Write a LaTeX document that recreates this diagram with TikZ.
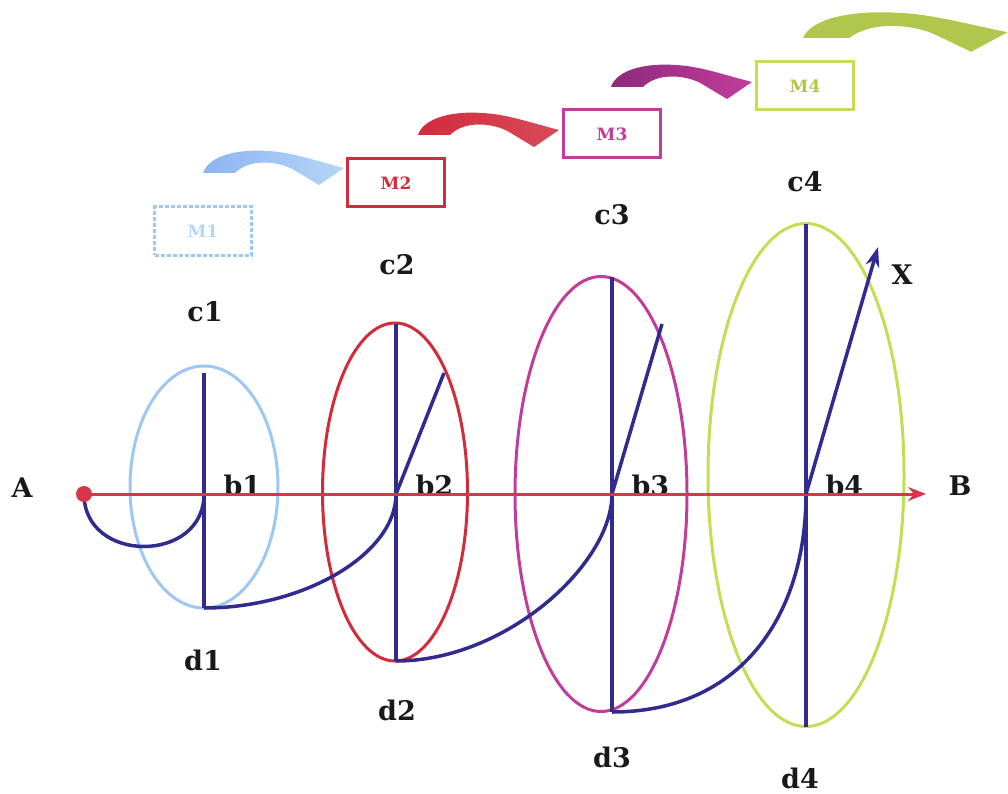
\documentclass[tikz,border=0pt]{standalone}
\usepackage{fontspec}
\usepackage{tikz}
\usetikzlibrary{shapes,arrows.meta,positioning,calc}
\newfontfamily\slabfont{DejaVu Serif}
\definecolor{rngblue}{HTML}{9DC8F2}
\definecolor{rngred}{HTML}{D22B3C}
\definecolor{rngmag}{HTML}{C23C9C}
\definecolor{rnggreen}{HTML}{C5DC55}
\definecolor{rngnavy}{HTML}{2F2B8F}
\definecolor{axisred}{HTML}{D8344A}
\definecolor{swpurple}{HTML}{8E2A7A}

\begin{document}
\begin{tikzpicture}[
    x=1pt, y=-1pt,
    ring/.style={draw, ellipse, line width=3pt, inner sep=0pt},
    spoke/.style={draw=rngnavy, line width=3.5pt},
    lbl/.style={font={\slabfont\fontsize{27}{30}\selectfont\bfseries}, text=black!90},
    mbox/.style={draw, line width=3pt, minimum width=97pt, minimum height=48pt,
                 font={\slabfont\fontsize{17}{20}\selectfont\bfseries}},
    swoosh/.pic={
        \path[pic actions] (0,0) .. controls (6,-18) and (36,-24) .. (64,-22)
            .. controls (88,-21) and (110,-13) .. (141,-5) -- (116,12) -- (91,-3)
            .. controls (78,-11) and (48,-16) .. (32,0) -- cycle;
    }
]
    \useasboundingbox (0,0) rectangle (1008,794);

    % boxes and swooshes
    \node[mbox, draw=rngblue, dash pattern=on 4pt off 2pt, text=rngblue!75] (m1) at (203,231) {M1};
    \node[mbox, draw=rngred, text=rngred] (m2) at (396,183) {M2};
    \node[mbox, draw=rngmag, text=rngmag] (m3) at (612,134) {M3};
    \node[mbox, draw=rnggreen, text=rnggreen!90!black] (m4) at (805,86) {M4};

    \pic[left color=rngblue!90!blue, right color=rngblue!75] at (203,173) {swoosh};
    \pic[left color=rngred, right color=rngred!85!white] at (418,135) {swoosh};
    \pic[left color=swpurple, right color=rngmag] at (611,87) {swoosh};
    \pic[fill=rnggreen!90!black, xscale=1.45, yscale=1.15] at (803,38) {swoosh};

    % rings
    \node[ring, draw=rngblue, minimum width=148pt, minimum height=242pt] (e1) at (204,487) {};
    \node[ring, draw=rngred, minimum width=145pt, minimum height=338pt] (e2) at (395,492) {};
    \node[ring, draw=rngmag, minimum width=172pt, minimum height=435pt] (e3) at (601,494) {};
    \node[ring, draw=rnggreen, minimum width=196pt, minimum height=503pt] (e4) at (806,475) {};

    % points
    \coordinate (A) at (84,494);
    \coordinate (B) at (926,494);
    \coordinate (b1) at (204,494);
    \coordinate (b2) at (396,494);
    \coordinate (b3) at (612,494);
    \coordinate (b4) at (806,494);
    \coordinate (t1) at (204,373);
    \coordinate (t2) at (396,324);
    \coordinate (t3) at (612,277);
    \coordinate (t4) at (806,224);
    \coordinate (d1) at (204,608);
    \coordinate (d2) at (396,661);
    \coordinate (d3) at (612,712);
    \coordinate (d4) at (806,727);
    \coordinate (r2) at (444,373);
    \coordinate (r3) at (662,324);
    \coordinate (r4) at (878,247);

    % diameters
    \draw[spoke] (t1) -- (d1);
    \draw[spoke] (t2) -- (d2);
    \draw[spoke] (t3) -- (d3);
    \draw[spoke] (t4) -- (d4);
    \draw[spoke] (b2) -- (r2);
    \draw[spoke] (b3) -- (r3);

    % helix
    \draw[spoke] (A) .. controls +(0,70) and +(0,70) .. (b1);
    \draw[spoke] (d1) .. controls +(100,0) and +(0,60) .. (b2);
    \draw[spoke] (d2) .. controls +(110,0) and +(0,70) .. (b3);
    \draw[spoke] (d3) .. controls +(130,0) and +(0,120) .. (b4);

    % labels
    \node[lbl, anchor=base west] (lb1) at ([xshift=16pt,yshift=-1pt]b1) {b1};
    \node[lbl, anchor=base west] (lb2) at ([xshift=16pt,yshift=-1pt]b2) {b2};
    \node[lbl, anchor=base west] (lb3) at ([xshift=16pt,yshift=-1pt]b3) {b3};
    \node[lbl, anchor=base west] (lb4) at ([xshift=16pt,yshift=-1pt]b4) {b4};
    \node[lbl] (lc1) at (205,312) {c1};
    \node[lbl] (lc2) at (397,265) {c2};
    \node[lbl] (lc3) at (612,215) {c3};
    \node[lbl] (lc4) at (805,182) {c4};
    \node[lbl] (ld1) at (203,660) {d1};
    \node[lbl] (ld2) at (397,710) {d2};
    \node[lbl] (ld3) at (612,757) {d3};
    \node[lbl] (ld4) at (800,778) {d4};
    \node[lbl] (la) at (22,488) {A};
    \node[lbl] (lb) at (960,486) {B};
    \node[lbl] (lx) at (902,275) {X};

    % axis
    \draw[axisred, line width=3pt, -{Stealth[length=18pt,width=14pt]}] (A) -- (B);
    \fill[axisred] (A) circle (8pt);
    \draw[spoke, -{Stealth[length=20pt,width=14pt]}] (b4) -- (r4);
\end{tikzpicture}
\end{document}
